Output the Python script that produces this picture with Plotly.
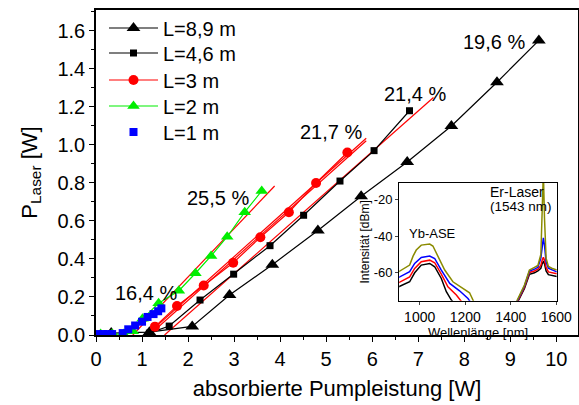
import plotly.graph_objects as go

# ---- main data: absorbed pump power [W] vs laser power [W]
x_89 = [0.33, 1.16, 2.09, 2.90, 3.83, 4.82, 5.76, 6.76, 7.72, 8.71, 9.62]
y_89 = [0.01, 0.015, 0.045, 0.21, 0.37, 0.55, 0.73, 0.91, 1.10, 1.33, 1.55]

x_46 = [1.16, 1.59, 2.26, 2.99, 3.78, 4.51, 5.30, 6.04, 6.81]
y_46 = [0.01, 0.047, 0.184, 0.32, 0.47, 0.63, 0.81, 0.97, 1.18]

x_3 = [1.28, 1.76, 2.34, 2.98, 3.57, 4.19, 4.78, 5.46]
y_3 = [0.044, 0.153, 0.26, 0.38, 0.514, 0.646, 0.80, 0.96]

x_2 = [0.10, 0.35, 0.60, 0.80, 1.01, 1.36, 1.80, 2.16, 2.50, 2.85, 3.23, 3.60]
y_2 = [0.005, 0.005, 0.005, 0.02, 0.085, 0.167, 0.233, 0.325, 0.416, 0.517, 0.646, 0.758]

x_1 = [0.05, 0.15, 0.25, 0.35, 0.58, 0.70, 0.85, 1.00, 1.12, 1.25, 1.35, 1.42]
y_1 = [0.005, 0.005, 0.005, 0.005, 0.01, 0.03, 0.05, 0.07, 0.095, 0.11, 0.125, 0.14]

# linear fits (start, end) of the slope-efficiency lines
fit_1_x = [0.54, 1.49]
fit_1_y = [0.0, 0.158]
fit_2_x = [0.80, 3.88]
fit_2_y = [0.0, 0.784]
fit_3a_x = [1.10, 5.87]
fit_3a_y = [0.0, 1.035]
fit_3b_x = [1.16, 5.87]
fit_3b_y = [0.0, 1.022]
fit_46_x = [1.49, 7.33]
fit_46_y = [0.0, 1.25]

eff_labels = ["16,4 %", "25,5 %", "21,7 %", "21,4 %", "19,6 %"]
eff_x = [1.09, 2.66, 5.10, 6.92, 8.64]
eff_y = [0.22, 0.72, 1.07, 1.27, 1.54]

# ---- inset spectra: wavelength [nm] vs intensity [dBm]
wl_olive = [908, 956, 971, 985, 1007, 1044, 1058, 1080, 1110, 1146, 1190, 1219, 1241, 1260,
            1400, 1424, 1460, 1482, 1504, 1519, 1532, 1538, 1543, 1548, 1555, 1565, 1580, 1602]
db_olive = [-59.4, -55.8, -50.9, -47.6, -44.9, -44.3, -45.4, -51.3, -58.5, -64.9, -68.5, -70.9, -76.7, -85,
            -85, -76, -66.7, -58.5, -57.0, -56.0, -50, -30, -5, -30, -52, -56.5, -57.5, -58.5]
wl_blue = [908, 956, 978, 1007, 1044, 1066, 1095, 1132, 1175, 1212, 1227, 1250,
           1400, 1424, 1460, 1482, 1504, 1519, 1532, 1538, 1543, 1548, 1555, 1565, 1580, 1602]
db_blue = [-62.5, -59.4, -54.9, -51.6, -50.9, -52.2, -58.5, -65.8, -69.8, -74.0, -76.7, -85,
           -85, -76.5, -67.2, -59.0, -58.0, -57.0, -52, -44, -41, -45, -54, -57.5, -58.5, -59.5]
wl_red = [908, 956, 978, 1007, 1044, 1066, 1095, 1124, 1161, 1190, 1210,
          1400, 1424, 1460, 1482, 1504, 1519, 1532, 1538, 1543, 1548, 1555, 1565, 1580, 1602]
db_red = [-65.4, -62.2, -57.6, -54.0, -53.1, -54.5, -60.7, -67.6, -72.1, -76.7, -85,
          -85, -77, -67.8, -59.8, -59.0, -58.0, -56, -53, -51.6, -53, -57, -59.5, -60, -60.5]
wl_black = [908, 956, 978, 1007, 1044, 1066, 1095, 1117, 1139, 1154, 1170,
            1400, 1424, 1460, 1482, 1504, 1519, 1532, 1538, 1543, 1548, 1555, 1565, 1580, 1602]
db_black = [-67.6, -64.9, -60.0, -55.8, -54.9, -56.7, -63.1, -70.3, -74.9, -76.7, -85,
            -85, -77.5, -68.5, -60.8, -60.0, -59.0, -57.5, -55, -54, -55, -59, -61, -61.5, -62]

inset_xticks = [1000, 1200, 1400, 1600]
inset_yticks = [-60, -40, -20]
inset_ytext = ["-60", "-40", "-20"]

FONT = "Liberation Sans, Arial, sans-serif"

fig = go.Figure()

# fit lines (no legend)
for fx, fy in [(fit_1_x, fit_1_y), (fit_2_x, fit_2_y), (fit_3a_x, fit_3a_y),
               (fit_3b_x, fit_3b_y), (fit_46_x, fit_46_y)]:
    fig.add_trace(go.Scatter(x=fx, y=fy, mode="lines", showlegend=False,
                             line=dict(color="#ff0000", width=1.2), hoverinfo="skip"))

fig.add_trace(go.Scatter(x=x_89, y=y_89, mode="lines+markers", name="L=8,9 m", legend="legend",
                         line=dict(color="black", width=1.2),
                         marker=dict(symbol="triangle-up", size=12, color="black")))
fig.add_trace(go.Scatter(x=x_46, y=y_46, mode="lines+markers", name="L=4,6 m", legend="legend2",
                         line=dict(color="black", width=1.2),
                         marker=dict(symbol="square", size=7, color="black")))
fig.add_trace(go.Scatter(x=x_3, y=y_3, mode="lines+markers", name="L=3 m", legend="legend3",
                         line=dict(color="#ff0000", width=1.2),
                         marker=dict(symbol="circle", size=10, color="#ff0000")))
fig.add_trace(go.Scatter(x=x_2, y=y_2, mode="lines+markers", name="L=2 m", legend="legend4",
                         line=dict(color="#00ee00", width=1.2),
                         marker=dict(symbol="triangle-up", size=11, color="#00ee00")))
fig.add_trace(go.Scatter(x=x_1, y=y_1, mode="markers", name="L=1 m", legend="legend5",
                         marker=dict(symbol="square", size=8, color="#0000ff")))

# inset spectra
for wl, db, col in [(wl_black, db_black, "black"), (wl_red, db_red, "#ff0000"),
                    (wl_blue, db_blue, "#0000ff"), (wl_olive, db_olive, "#8b8b00")]:
    fig.add_trace(go.Scatter(x=wl, y=db, mode="lines", xaxis="x2", yaxis="y2",
                             showlegend=False, line=dict(color=col, width=1.5),
                             hoverinfo="skip"))

for t, ex, ey in zip(eff_labels, eff_x, eff_y):
    fig.add_annotation(x=ex, y=ey, text=t, showarrow=False,
                       font=dict(family=FONT, size=20, color="black"))

# inset background
fig.add_shape(type="rect", xref="paper", yref="paper", x0=0.629, x1=0.956, y0=0.105, y1=0.468,
              fillcolor="white", line=dict(width=0), layer="below")

fig.add_annotation(x=945, y=-38.5, xref="x2", yref="y2", text="Yb-ASE", showarrow=False,
                   xanchor="left", font=dict(family=FONT, size=13, color="black"))
fig.add_annotation(x=1300, y=-15.9, xref="x2", yref="y2", text="Er-Laser",
                   showarrow=False, xanchor="left",
                   font=dict(family=FONT, size=14, color="black"))
fig.add_annotation(x=1300, y=-24.1, xref="x2", yref="y2", text="(1543 nm)",
                   showarrow=False, xanchor="left",
                   font=dict(family=FONT, size=13.5, color="black"))


def leg(yc):
    return dict(x=0.0166, y=yc, xanchor="left", yanchor="middle",
                font=dict(family=FONT, size=20), bgcolor="rgba(0,0,0,0)",
                itemwidth=49)


fig.update_layout(
    width=579, height=405, autosize=False,
    margin=dict(l=96, r=1, t=10, b=70, autoexpand=False),
    paper_bgcolor="white", plot_bgcolor="white",
    font=dict(family=FONT, size=16, color="black"),
    showlegend=True,
    legend=leg(0.9446), legend2=leg(0.8677), legend3=leg(0.7846),
    legend4=leg(0.7046), legend5=leg(0.6246),
    xaxis=dict(range=[0, 10.47], tickmode="array", tickvals=list(range(0, 11)),
               automargin=False,
               showgrid=False, zeroline=False, showline=True, linecolor="black", linewidth=1.5,
               mirror=True, ticks="outside", ticklen=5, tickcolor="black",
               minor=dict(dtick=0.5, ticks="outside", ticklen=3, tickcolor="black"),
               tickfont=dict(size=20),
               title=dict(text="absorbierte Pumpleistung [W]", font=dict(size=22), standoff=12)),
    yaxis=dict(range=[0, 1.71], tickmode="array", tickvals=[0, 0.2, 0.4, 0.6, 0.8, 1.0, 1.2, 1.4, 1.6],
               automargin=False,
               tickformat=".1f", showgrid=False, zeroline=False, showline=True, linecolor="black",
               linewidth=1.5, mirror=True, ticks="outside", ticklen=5, tickcolor="black",
               minor=dict(dtick=0.1, ticks="outside", ticklen=3, tickcolor="black"),
               tickfont=dict(size=20),
               title=dict(text="P<sub>Laser</sub> [W]", font=dict(size=22), standoff=14)),
    xaxis2=dict(domain=[0.629, 0.956], anchor="y2", range=[910, 1602],
                automargin=False, tickmode="array",
                tickvals=inset_xticks, showgrid=False, zeroline=False,
                showline=True, linecolor="black", linewidth=1, mirror=True,
                ticks="outside", ticklen=3, tickfont=dict(size=14),
                title=dict(text="Wellenlänge [nm]", font=dict(size=13), standoff=0)),
    yaxis2=dict(domain=[0.105, 0.468], anchor="x2", range=[-75.3, -11],
                automargin=False, tickmode="array",
                tickvals=inset_yticks, ticktext=inset_ytext, showgrid=False, zeroline=False,
                showline=True, linecolor="black", linewidth=1, mirror=True,
                ticks="outside", ticklen=3, tickfont=dict(size=13),
                title=dict(text="Intensität [dBm]", font=dict(size=12), standoff=1)),
)

fig.write_html("out.html", config={"responsive": False, "displayModeBar": False},
               post_script="document.body.style.margin='0';document.body.style.overflow='hidden';")
